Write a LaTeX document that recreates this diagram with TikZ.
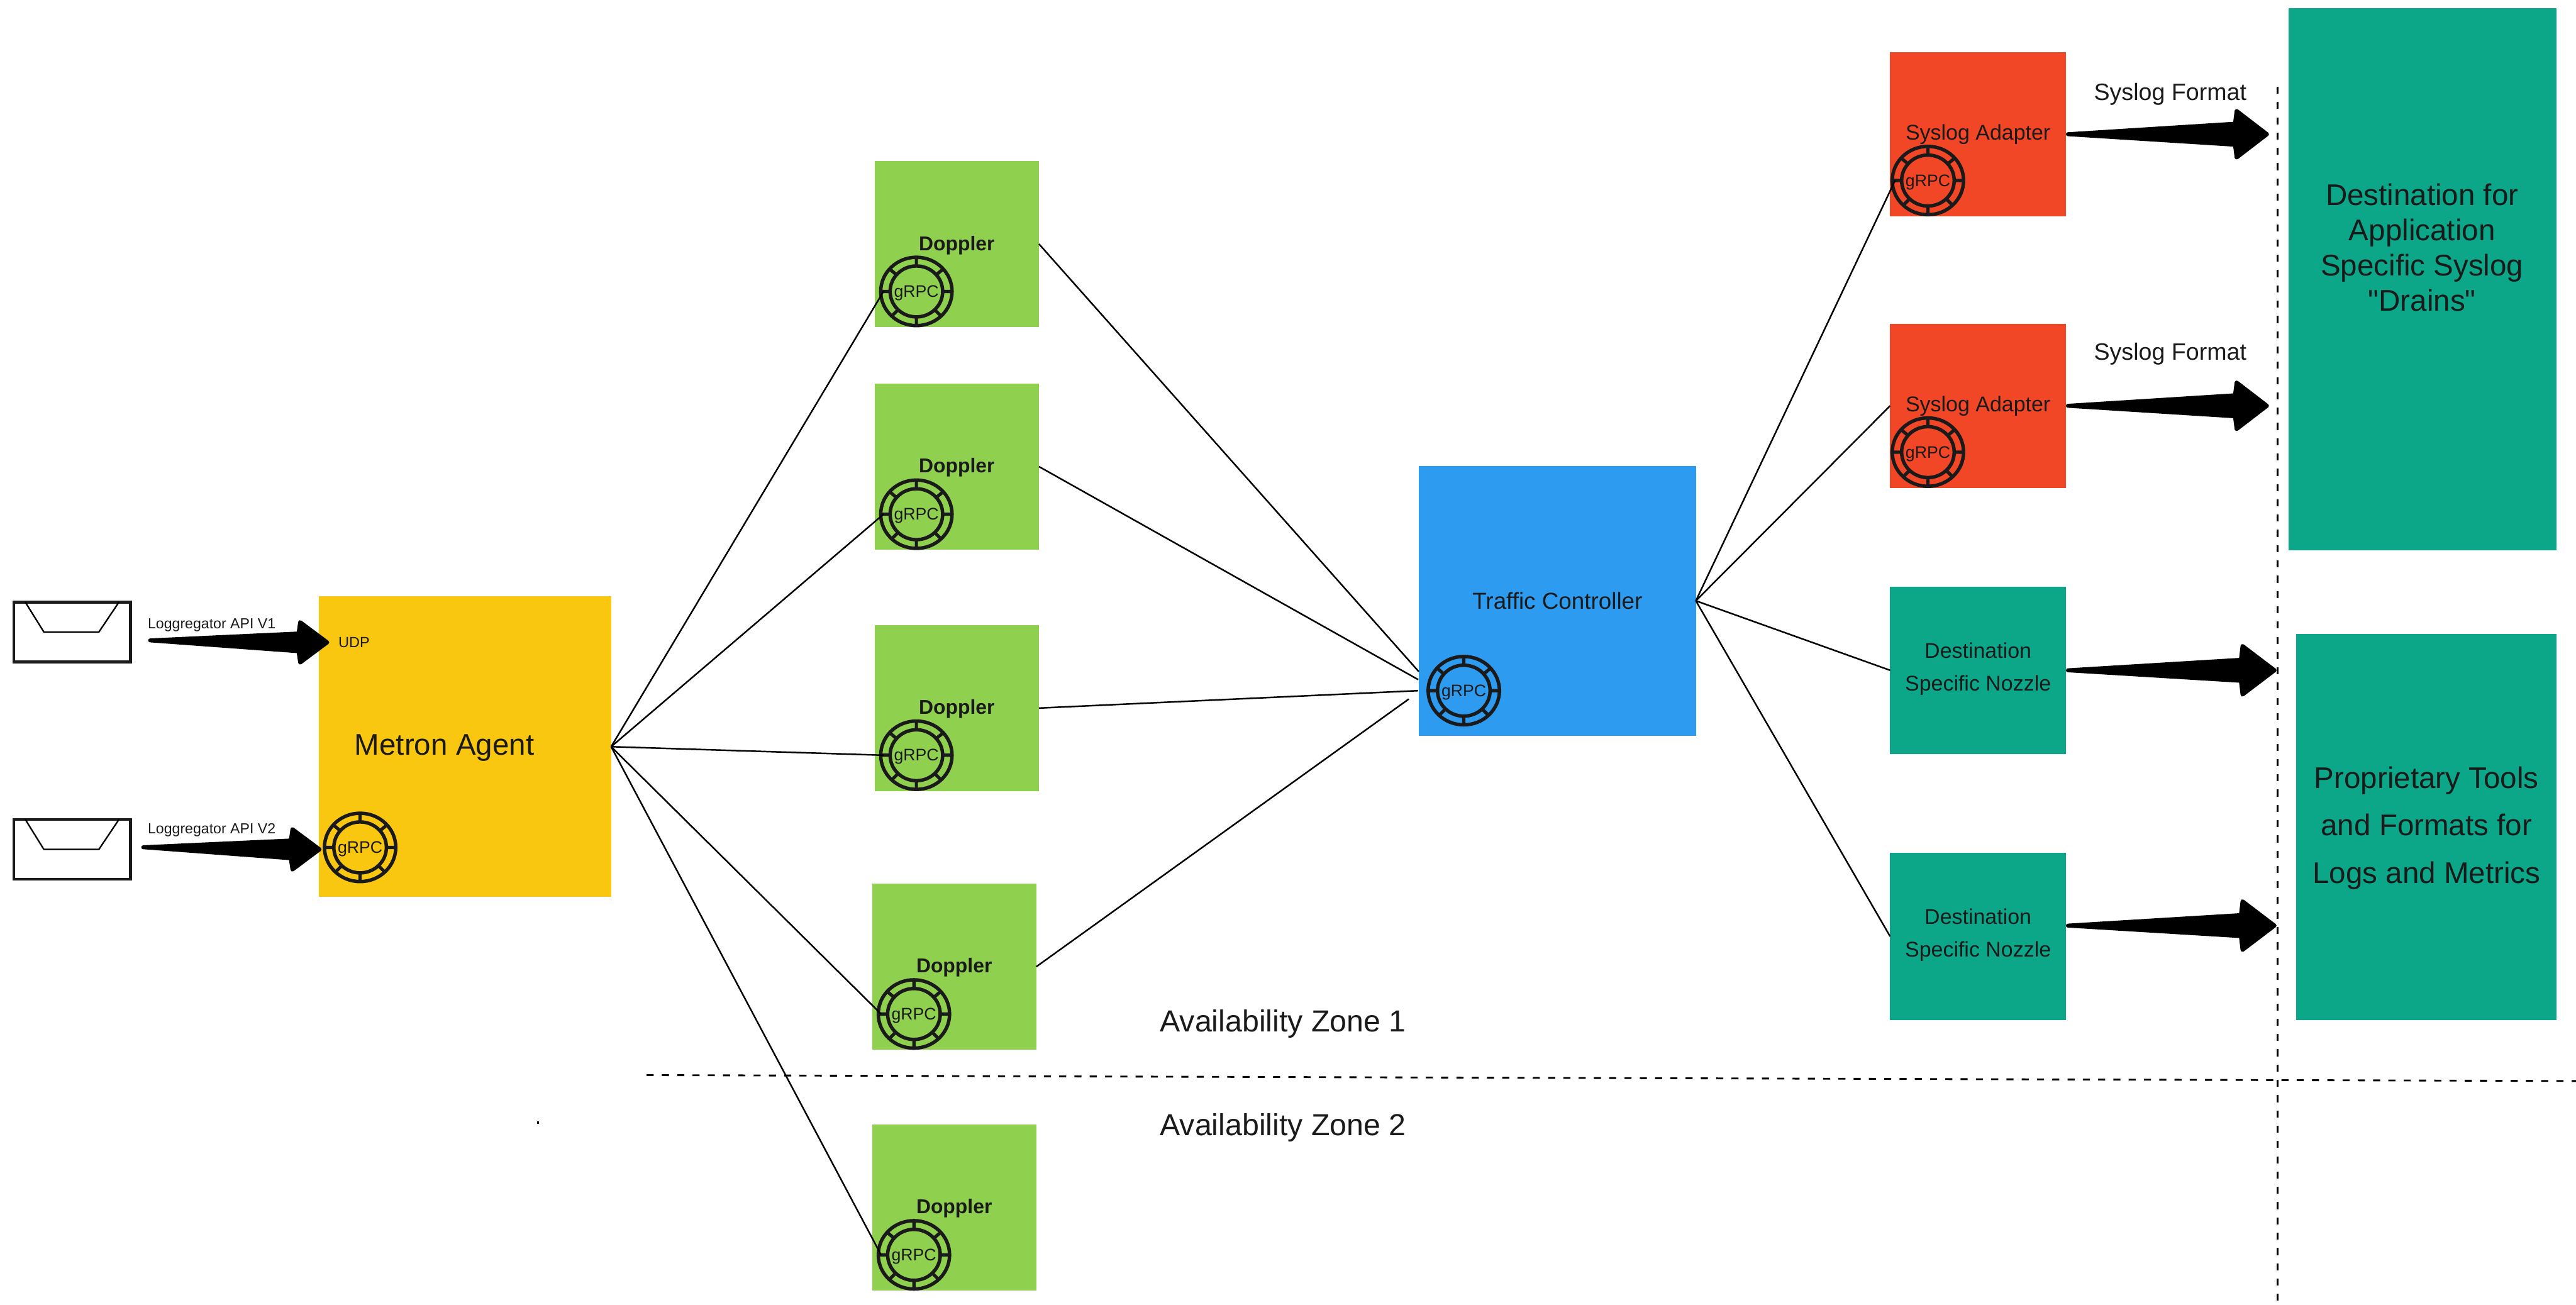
\documentclass[tikz,border=0pt]{standalone}
\usepackage{fontspec}
\setmainfont{Liberation Sans}
\newfontfamily\straightfont{Liberation Sans}
\usetikzlibrary{calc}

\definecolor{metronyellow}{HTML}{FAC710}
\definecolor{dopplergreen}{HTML}{8FD14F}
\definecolor{trafficblue}{HTML}{2D9BF0}
\definecolor{syslogred}{HTML}{F24726}
\definecolor{nozzleteal}{HTML}{0CA789}
\definecolor{inkgray}{HTML}{1A1A1A}

\newcommand{\fsize}[2]{\fontsize{#1}{#2}\selectfont}
% tail, tip, head length, shaft half width, head half width
\newcommand{\fatarrow}[5]{
    \filldraw[line width=2.4pt, line join=round] ($(#1)+(1.2,0)$) -- ($(#2)+(-#3,-#4)$) -- ($(#2)+(-#3+1,-#5)$) -- ($(#2)+(-1.5,0)$) -- ($(#2)+(-#3+1,#5)$) -- ($(#2)+(-#3,#4)$) -- cycle;
}

\tikzset{
    flatbox/.style={rectangle, minimum width=#1},
    metronbox/.style={flatbox=178pt, minimum height=183pt, fill=metronyellow},
    dopplerbox/.style={flatbox=100pt, minimum height=101pt, fill=dopplergreen},
    trafficbox/.style={flatbox=168.5pt, minimum height=164pt, fill=trafficblue, font=\fsize{14.1}{17}},
    syslogbox/.style={flatbox=107pt, minimum height=100pt, fill=syslogred},
    nozzlebox/.style={flatbox=107pt, minimum height=102pt, fill=nozzleteal, font=\fsize{13}{20}},
    dopplerlabel/.style={anchor=base, font=\bfseries\fsize{12.2}{14}},
    sysloglabel/.style={anchor=base, font=\fsize{13}{16}},
    formatlabel/.style={anchor=base, font=\fsize{14.4}{17}},
    apilabel/.style={anchor=base west, font=\fsize{8.85}{11}},
    bigtext/.style={font=\fsize{18.2}{#1}},
    zonelabel/.style={anchor=base, font=\fsize{18.5}{22}},
    link/.style={line width=0.95pt},
    zoneline/.style={line width=1.1pt, dash pattern=on 4.3pt off 5pt},
    grpcring/.pic={
        \draw[inkgray, line width=2.1pt] (0,0) ellipse [x radius=21.7, y radius=20.8];
        \draw[inkgray, line width=2.1pt] (0,0) ellipse [x radius=16, y radius=15.5];
        \draw[inkgray, line width=2pt] (0:16) -- (0:21.5) (45:15.5) -- (45:21) (90:15.5) -- (90:20.5) (135:15.5) -- (135:21) (180:16) -- (180:21.5) (220:15.5) -- (220:21) (270:15.5) -- (270:20.5) (320:15.5) -- (320:21);
        \node[anchor=base, font=\fsize{10.2}{12}] (-label) at (0,3.5) {gRPC};
        \coordinate (-port) at (-20,0);
    },
    mailicon/.pic={
        \node[rectangle, draw=inkgray, line width=1.85pt, minimum width=71pt, minimum height=36.4pt] (-frame) at (0,0) {};
        \draw[line width=0.9pt] (-28.5,-18.2) -- (-17.2,0) -- (16.3,0) -- (28.5,-18.2);
    }
}

\begin{document}
\begin{tikzpicture}[x=1pt, y=-1pt, every node/.style={align=center, inner sep=0pt, outer sep=0pt, text=inkgray}]

    \useasboundingbox (0,0) rectangle (1568,794);

    % Boxes
    \node[metronbox] (metron) at (283,454.5) {};
    \node[dopplerbox] (doppler1) at (582.4,148.5) {};
    \node[dopplerbox] (doppler2) at (582.4,284) {};
    \node[dopplerbox] (doppler3) at (582.4,431) {};
    \node[dopplerbox] (doppler4) at (580.8,588.4) {};
    \node[dopplerbox] (doppler5) at (580.8,735) {};
    \node[trafficbox] (traffic) at (948,365.7) {Traffic Controller};
    \node[syslogbox] (syslog1) at (1204,81.7) {};
    \node[syslogbox] (syslog2) at (1204,247) {};
    \node[nozzlebox] (nozzle1) at (1204,408) {};
    \node[nozzlebox] (nozzle2) at (1204,570) {};
    \node[flatbox=163pt, minimum height=330pt, fill=nozzleteal] (drains) at (1474.5,170) {};
    \node[flatbox=158.5pt, minimum height=235pt, fill=nozzleteal] (tools) at (1476.8,503.5) {};

    % Box labels
    \node[anchor=base, bigtext=22] (metrontext) at (270.5,459.6) {Metron Agent};
    \node[anchor=base, font=\fsize{9}{11}] (udptext) at (215.5,394.2) {UDP};
    \node[dopplerlabel] (dopplertext1) at (582.4,152.4) {Doppler};
    \node[dopplerlabel] (dopplertext2) at (582.4,287.8) {Doppler};
    \node[dopplerlabel] (dopplertext3) at (582.4,434.7) {Doppler};
    \node[dopplerlabel] (dopplertext4) at (580.8,592.1) {Doppler};
    \node[dopplerlabel] (dopplertext5) at (580.8,738.8) {Doppler};
    \node[sysloglabel] (syslogtext1) at (1204,85.1) {Syslog Adapter};
    \node[sysloglabel] (syslogtext2) at (1204,250.5) {Syslog Adapter};
    \node[font=\fsize{13}{20}] (nozzletext1) at (1204,407.2) {Destination\\Specific Nozzle};
    \node[font=\fsize{13}{20}] (nozzletext2) at (1204,569.2) {Destination\\Specific Nozzle};
    \node[bigtext=21.4] (drainstext) at (1474.3,150.7) {Destination for\\Application\\Specific Syslog\\{\straightfont "}Drains{\straightfont "}};
    \node[bigtext=29] (toolstext) at (1477,504) {Proprietary Tools\\and Formats for\\Logs and Metrics};

    % gRPC rings
    \pic (metronring) at (219.2,515.8) {grpcring};
    \pic (ring1) at (557.8,177.4) {grpcring};
    \pic (ring2) at (557.8,313) {grpcring};
    \pic (ring3) at (557.8,459.7) {grpcring};
    \pic (ring4) at (556.3,617.2) {grpcring};
    \pic (ring5) at (556.3,763.8) {grpcring};
    \pic (trafficring) at (891,420.4) {grpcring};
    \pic (syslogring1) at (1173.5,109.9) {grpcring};
    \pic (syslogring2) at (1173.5,275.2) {grpcring};

    % Log sources
    \pic (mail1) at (43.9,384.7) {mailicon};
    \pic (mail2) at (43.9,517) {mailicon};
    \node[apilabel] (apitext1) at (90,382.8) {Loggregator API V1};
    \node[apilabel] (apitext2) at (90,507.6) {Loggregator API V2};

    % Metron to Doppler
    \draw[link] (metron.east) -- (ring1-port);
    \draw[link] (metron.east) -- (ring2-port);
    \draw[link] (metron.east) -- (ring3-port);
    \draw[link] (metron.east) -- (ring4-port);
    \draw[link] (metron.east) -- (ring5-port);

    % Doppler to Traffic Controller
    \coordinate (trafficin1) at (863.6,408.8);
    \coordinate (trafficin2) at (863.3,413.7);
    \coordinate (trafficin3) at (863.2,420.4);
    \coordinate (trafficin4) at (857.5,425.5);
    \draw[link] (doppler1.east) -- (trafficin1);
    \draw[link] (doppler2.east) -- (trafficin2);
    \draw[link] (doppler3.east) -- (trafficin3);
    \draw[link] (doppler4.east) -- (trafficin4);

    % Traffic Controller to the right
    \draw[link] (traffic.east) -- (syslogring1-port);
    \draw[link] (traffic.east) -- (syslog2.west);
    \draw[link] (traffic.east) -- (nozzle1.west);
    \draw[link] (traffic.east) -- (nozzle2.west);

    % Zone borders
    \coordinate (zoneleft) at (393.6,654.4);
    \coordinate (zoneright) at (1568,658);
    \coordinate (bordertop) at (1386.2,52.8);
    \coordinate (borderbottom) at (1386.2,794);
    \draw[zoneline] (zoneleft) -- (zoneright);
    \draw[zoneline] (bordertop) -- (borderbottom);
    \node[zonelabel] (zonetext1) at (781,628) {Availability Zone 1};
    \node[zonelabel] (zonetext2) at (781,691) {Availability Zone 2};
    \fill (327,682.5) rectangle (328,684.2);

    % Fat arrows
    \coordinate (apitail1) at (90.2,389.8);
    \coordinate (apitip1) at (200.7,391);
    \coordinate (apitail2) at (86,515.7);
    \coordinate (apitip2) at (196,517);
    \coordinate (formattip1) at (1381.4,81.7);
    \coordinate (formattip2) at (1381.4,247);
    \coordinate (nozzletip1) at (1386,408);
    \coordinate (nozzletip2) at (1386,563.4);
    \coordinate (nozzletail2) at (1257.5,563.4);
    \fatarrow{apitail1}{apitip1}{19}{5.4}{12.3}
    \fatarrow{apitail2}{apitip2}{19}{5.4}{12.3}
    \fatarrow{syslog1.east}{formattip1}{21}{6.4}{14.2}
    \fatarrow{syslog2.east}{formattip2}{21}{6.4}{14.2}
    \fatarrow{nozzle1.east}{nozzletip1}{22}{6.4}{14.8}
    \fatarrow{nozzletail2}{nozzletip2}{22}{6.4}{14.8}
    \node[formatlabel] (formattext1) at (1321,60.9) {Syslog Format};
    \node[formatlabel] (formattext2) at (1321,219) {Syslog Format};

\end{tikzpicture}
\end{document}
